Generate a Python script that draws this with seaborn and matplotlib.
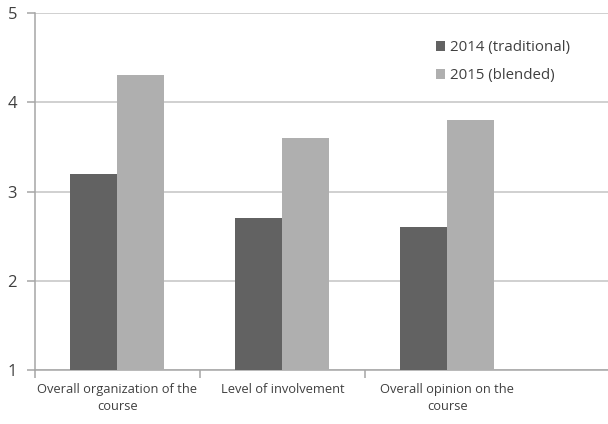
import matplotlib
matplotlib.use("Agg")
import matplotlib.pyplot as plt
import seaborn as sns
import pandas as pd
from matplotlib.patches import Patch

categories = ["Overall organization of the\ncourse", "Level of involvement", "Overall opinion on the\ncourse"]
series_names = ["2014 (traditional)", "2015 (blended)"]
values_2014 = [3.2, 2.7, 2.6]
values_2015 = [4.3, 3.6, 3.8]
yticks = [1, 2, 3, 4, 5]
colors = ["#626262", "#AFAFAF"]

df = pd.DataFrame({
    "category": categories * 2,
    "series": [series_names[0]] * 3 + [series_names[1]] * 3,
    "value": values_2014 + values_2015,
})

sns.set_style("white")
plt.rcParams["font.family"] = ["Open Sans", "DejaVu Sans"]

fig = plt.figure(figsize=(6.08, 4.24), dpi=100)
ax = fig.add_axes([35 / 608, 1 - 370 / 424, 1 - 35 / 608, (370 - 13) / 424])

sns.barplot(data=df, x="category", y="value", hue="series", palette=colors,
            width=0.57, ax=ax, saturation=1, legend=False, zorder=3)
# bars start at axis minimum 1
for p in ax.patches:
    h = p.get_height()
    p.set_y(1)
    p.set_height(h - 1)
    p.set_linewidth(0)

ax.set_ylim(1, 5)
ax.set_xlim(-0.48, 2.975)
ax.set_yticks(yticks)
ax.yaxis.grid(True, color="#C4C4C4", linewidth=1.1, zorder=0)
ax.set_axisbelow(True)
ax.set_xlabel("")
ax.set_ylabel("")

for s in ["top", "right"]:
    ax.spines[s].set_visible(False)
for s in ["left", "bottom"]:
    ax.spines[s].set_color("#A6A6A6")
    ax.spines[s].set_linewidth(1.1)

ax.tick_params(axis="y", which="major", left=True, length=6, width=1.1,
               color="#A6A6A6", labelsize=12, labelcolor="#404040", pad=7)
ax.tick_params(axis="x", which="major", bottom=False, labelsize=9.3,
               labelcolor="#404040", pad=6)
ax.set_xticks([-0.5, 0.5, 1.5], minor=True)
ax.tick_params(axis="x", which="minor", bottom=True, length=6, width=1.1,
               color="#A6A6A6")
for lbl in ax.get_xticklabels():
    lbl.set_horizontalalignment("center")
    lbl.set_multialignment("center")
    lbl.set_linespacing(1.35)

handles = [Patch(facecolor=c, edgecolor="none") for c in colors]
leg = fig.legend(handles, series_names, loc="upper left",
                 bbox_to_anchor=(422 / 608, 1 - 27 / 424), frameon=False,
                 fontsize=10.8, handlelength=0.65, handleheight=0.65,
                 handletextpad=0.35, labelspacing=0.85, labelcolor="#404040")

fig.savefig("out.png", dpi=100)
